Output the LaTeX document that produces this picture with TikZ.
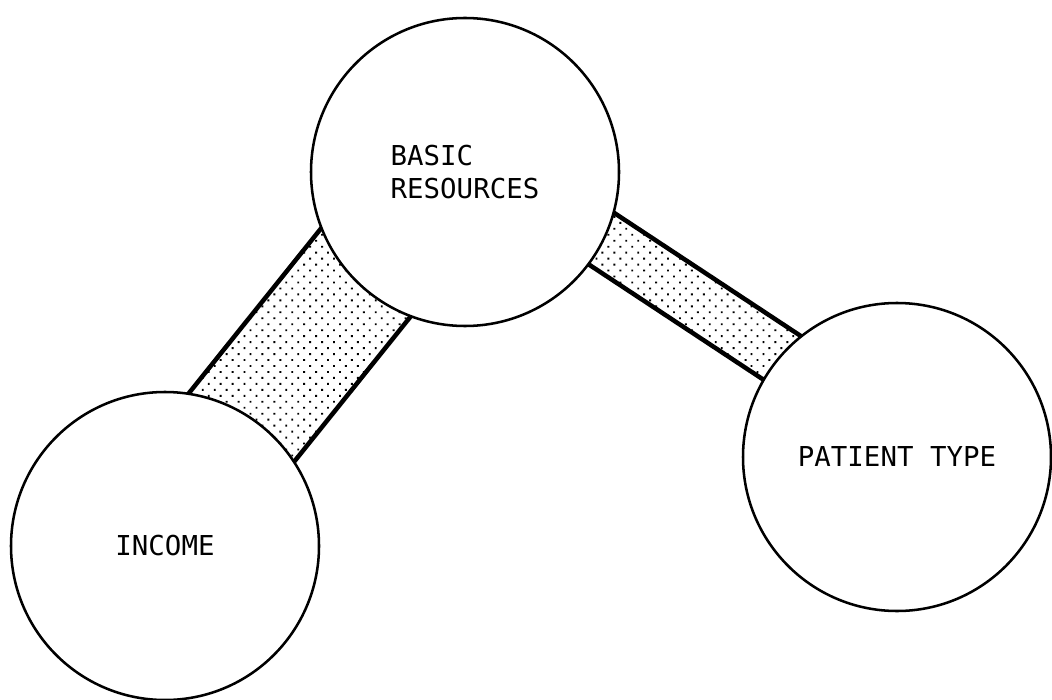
\documentclass[tikz,border=0pt]{standalone}
\usepackage{fontspec}
\setmonofont{DejaVu Sans Mono}
\usetikzlibrary{calc, patterns.meta, backgrounds}
\tikzstyle{factor}=[circle, draw, fill=white, line width=1.8pt, minimum size=7.7cm, inner sep=0pt, align=left, font=\ttfamily\fontsize{19.5}{24}\selectfont]
\tikzstyle{link}=[pattern={Dots[distance=6pt, radius=0.95pt, angle=45]}]
\tikzstyle{linkedge}=[line width=3.2pt]
\newcommand{\factor}{\node[factor]}

\begin{document}
\begin{tikzpicture}
            \useasboundingbox (0,0) rectangle (26.3,-17.5);
            \factor (res) at (11.625,-4.3) {BASIC\\RESOURCES};
            \factor (inc) at (4.125,-13.65) {INCOME};
            \factor (pat) at (22.425,-11.425) {PATIENT TYPE};
            \begin{scope}[on background layer]
            % income -- basic resources
            \coordinate (a1) at ($(inc.center)!1.925cm!90:(res.center)$);
            \coordinate (a2) at ($(res.center)!1.925cm!-90:(inc.center)$);
            \coordinate (b1) at ($(inc.center)!1.2cm!-90:(res.center)$);
            \coordinate (b2) at ($(res.center)!1.2cm!90:(inc.center)$);
            \fill[link] (a1) -- (a2) -- (b2) -- (b1) -- cycle;
            \draw[linkedge] (a1) -- (a2) (b1) -- (b2);
            % basic resources -- patient type
            \coordinate (c1) at ($(res.center)!1.2cm!90:(pat.center)$);
            \coordinate (c2) at ($(pat.center)!1.2cm!-90:(res.center)$);
            \coordinate (d1) at ($(res.center)!0.225cm!-90:(pat.center)$);
            \coordinate (d2) at ($(pat.center)!0.225cm!90:(res.center)$);
            \fill[link] (c1) -- (c2) -- (d2) -- (d1) -- cycle;
            \draw[linkedge] (c1) -- (c2) (d1) -- (d2);
            \end{scope}
        \end{tikzpicture}
\end{document}
